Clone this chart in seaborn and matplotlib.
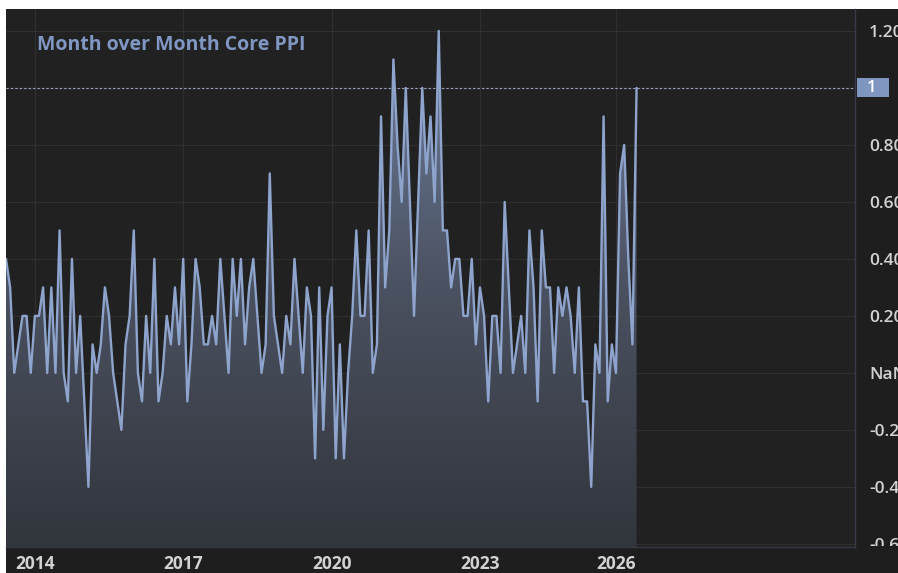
import numpy as np
import pandas as pd
import seaborn as sns
import matplotlib.pyplot as plt
from matplotlib.colors import LinearSegmentedColormap
from matplotlib.patches import Rectangle
from matplotlib.transforms import Bbox, IdentityTransform, TransformedBbox, blended_transform_factory

TITLE = "Month over Month Core PPI"

# monthly core PPI change (%), one value per bar
core_ppi_mom = [
    0.4, 0.3, 0.0, 0.1, 0.2, 0.2, 0.0, 0.2, 0.2, 0.3,
    0.0, 0.3, 0.0, 0.5, 0.0, -0.1, 0.4, 0.0, 0.2, -0.1,
    -0.4, 0.1, 0.0, 0.1, 0.3, 0.2, 0.0, -0.1, -0.2, 0.1,
    0.2, 0.5, 0.0, -0.1, 0.2, 0.0, 0.4, -0.1, 0.0, 0.2,
    0.1, 0.3, 0.1, 0.4, -0.1, 0.1, 0.4, 0.3, 0.1, 0.1,
    0.2, 0.1, 0.4, 0.2, 0.0, 0.4, 0.2, 0.4, 0.1, 0.3,
    0.4, 0.2, 0.0, 0.1, 0.7, 0.2, 0.1, 0.0, 0.2, 0.1,
    0.4, 0.2, 0.0, 0.3, 0.2, -0.3, 0.3, -0.2, 0.2, 0.3,
    -0.3, 0.1, -0.3, 0.0, 0.2, 0.5, 0.2, 0.2, 0.5, 0.0,
    0.1, 0.9, 0.3, 0.5, 1.1, 0.8, 0.6, 1.0, 0.6, 0.2,
    0.6, 1.0, 0.7, 0.9, 0.6, 1.2, 0.5, 0.5, 0.3, 0.4,
    0.4, 0.2, 0.2, 0.4, 0.1, 0.3, 0.2, -0.1, 0.2, 0.2,
    0.0, 0.6, 0.3, 0.0, 0.1, 0.2, 0.0, 0.5, 0.3, -0.1,
    0.5, 0.3, 0.3, 0.0, 0.3, 0.2, 0.3, 0.2, 0.0, 0.3,
    -0.1, -0.1, -0.4, 0.1, 0.0, 0.9, -0.1, 0.1, 0.0, 0.7,
    0.8, 0.4, 0.1, 1.0,
]
year_labels = ["2014", "2017", "2020", "2023", "2026"]
year_bar = [7, 43, 79, 115, 148]  # bar index where each year starts
y_ticks = [-0.6, -0.4, -0.2, 0.0, 0.2, 0.4, 0.6, 0.8, 1.2]
y_tick_labels = ["-0.6", "-0.4", "-0.2", "NaN", "0.20", "0.40", "0.60", "0.80", "1.20"]

df = pd.DataFrame({"bar": np.arange(len(core_ppi_mom)), "value": core_ppi_mom})
last_value = core_ppi_mom[-1]

LINE = "#8ea4cc"
BG = "#212121"
GRID = "#2f2f2f"
TEXT = "#d2d2d2"

sns.set_theme(style="dark")
plt.rcParams["font.family"] = ["Open Sans", "DejaVu Sans"]

W, H = 898, 573
fig = plt.figure(figsize=(W / 100, H / 100), dpi=100, facecolor="white")
fig.patches.append(Rectangle((6 / W, 0), 1 - 6 / W, 1 - 9 / H, transform=fig.transFigure,
                             facecolor="#1e1e1e", edgecolor="none", zorder=-10))

ax = fig.add_axes([6 / W, 26 / H, 849 / W, 538 / H])
ax.set_facecolor(BG)
ymin, ymax = -0.611, 1.277
xmax = 206

# gradient area under the line
fb = ax.fill_between(df["bar"], df["value"], ymin, facecolor="none", edgecolor="none")
cmap = LinearSegmentedColormap.from_list("area", ["#32353c", "#4a5160", "#6f7f9e"])
grad = np.linspace(0, 1, 256).reshape(-1, 1)
img = ax.imshow(grad, extent=[0, len(df) - 1, ymin, df["value"].max()], origin="lower",
                cmap=cmap, aspect="auto", zorder=1, interpolation="bilinear")
img.set_clip_path(fb.get_paths()[0], transform=ax.transData)

sns.lineplot(data=df, x="bar", y="value", ax=ax, color=LINE, linewidth=1.7, zorder=3)

ax.set_xlim(0, xmax)
ax.set_ylim(ymin, ymax)

# grid
for yt in y_ticks + [1.0]:
    ax.axhline(yt, color=GRID, linewidth=0.9, zorder=0.5)
for xb in year_bar:
    ax.axvline(xb, color=GRID, linewidth=0.9, zorder=0.5)
ax.axhline(last_value, color="#9aa6bf", linewidth=0.8, linestyle=(0, (2, 2)), zorder=4)

# axes / ticks
ax.yaxis.tick_right()
ax.set_yticks(y_ticks)
ax.set_yticklabels(y_tick_labels)
ax.set_xticks(year_bar)
ax.set_xticklabels(year_labels)
ax.tick_params(axis="y", length=0, pad=10, labelsize=12.5, labelcolor=TEXT)
ax.tick_params(axis="x", length=0, pad=6, labelsize=12.5, labelcolor=TEXT)
for lab in ax.get_xticklabels():
    lab.set_fontweight("bold")
clip = TransformedBbox(Bbox.from_extents(855, 27, 898, 573), IdentityTransform())
for lab in ax.get_yticklabels():
    lab.set_fontweight("semibold")
    lab.set_clip_on(True)
    lab.set_clip_box(clip)
ax.set_xlabel("")
ax.set_ylabel("")
ax.grid(False)
for side in ["top", "left"]:
    ax.spines[side].set_visible(False)
for side in ["right", "bottom"]:
    ax.spines[side].set_color("#363a45")
    ax.spines[side].set_linewidth(1.0)

# last value marker on the price scale
tr = blended_transform_factory(ax.transAxes, ax.transData)
ax.add_patch(Rectangle((1 + 2 / 849, last_value - 9.5 / 285), 32 / 849, 19 / 285, transform=tr,
                       facecolor="#7f96c1", edgecolor="none", clip_on=False, zorder=5))
ax.text(1 + 12 / 849, last_value, "1", transform=tr, color="white", fontsize=12,
        fontweight="semibold", va="center", ha="left", clip_on=False, zorder=6)

fig.text(37 / W, 1 - 45 / H, TITLE, color="#7f97c2", fontsize=14, fontweight="bold",
         va="center", ha="left")

fig.savefig("out.png", dpi=100, facecolor=fig.get_facecolor())
